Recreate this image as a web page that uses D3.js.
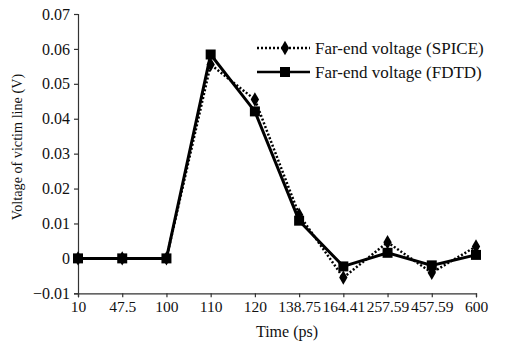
<!DOCTYPE html>
<html><head><meta charset="utf-8">
<script src="https://cdn.jsdelivr.net/npm/d3@7"></script>
<style>body{margin:0;background:#fff}svg{display:block}</style>
</head><body><svg id="c" width="513" height="357" style="font-family:'Liberation Serif'"></svg>
<script>
const categories = ["10","47.5","100","110","120","138.75","164.41","257.59","457.59","600"];
const spice = [0,0,0,0.0555,0.0455,0.0125,-0.0055,0.0046,-0.0041,0.0034];
const fdtd  = [0,0,0,0.0584,0.0421,0.0108,-0.0023,0.0016,-0.0020,0.0010];
const yTicks = [-0.01,0,0.01,0.02,0.03,0.04,0.05,0.06,0.07];
const seriesNames = ["Far-end voltage (SPICE)","Far-end voltage (FDTD)"];

const svg = d3.select("#c");
const x = d3.scalePoint().domain(categories).range([78,476]);
const y = d3.scaleLinear().domain([-0.01,0.07]).range([293.3,14]);

const xa = svg.append("g").attr("transform","translate(0,293.3)")
  .call(d3.axisBottom(x).tickSizeOuter(0).tickSize(4).tickPadding(4));
const ya = svg.append("g").attr("transform","translate(78,0)")
  .call(d3.axisLeft(y).tickValues(yTicks).tickSizeOuter(0).tickSize(4).tickPadding(4)
    .tickFormat(d => d===0 ? "0" : (d<0 ? "\u2212"+Math.abs(d).toFixed(2) : d.toFixed(2))));
[xa,ya].forEach((g,k)=>{
  g.attr("font-family",null).attr("font-size",null);
  g.selectAll("path,line").attr("stroke","#333").attr("stroke-width",1.2);
  g.selectAll("text").attr("font-size",k===0?15.5:16).attr("fill","#111");
});

svg.append("text").attr("x",287).attr("y",337).attr("text-anchor","middle").attr("font-size",16).attr("fill","#111").text("Time (ps)");
svg.append("text").attr("transform","translate(22,147) rotate(-90)").attr("text-anchor","middle").attr("font-size",14.2).attr("fill","#111").text("Voltage of victim line (V)");

const line = d3.line().x((d,i)=>x(categories[i])).y(d=>y(d));
svg.append("path").datum(fdtd).attr("d",line).attr("fill","none").attr("stroke","#000").attr("stroke-width",3);
svg.append("path").datum(spice).attr("d",line).attr("fill","none").attr("stroke","#000").attr("stroke-width",2.5).attr("stroke-dasharray","2,2");

const diamond = d3.symbol().type(d3.symbolDiamond).size(60);
const square = d3.symbol().type(d3.symbolSquare).size(100);
svg.append("g").selectAll("path").data(spice).join("path")
  .attr("d",diamond).attr("transform",(d,i)=>`translate(${x(categories[i])},${y(d)})`).attr("fill","#000");
svg.append("g").selectAll("path").data(fdtd).join("path")
  .attr("d",square).attr("transform",(d,i)=>`translate(${x(categories[i])},${y(d)})`).attr("fill","#000");

const lg = svg.append("g");
const rows = [{name:seriesNames[0],y:48,dash:"2,2",sym:diamond},{name:seriesNames[1],y:72,dash:null,sym:square}];
rows.forEach(r=>{
  lg.append("line").attr("x1",257).attr("x2",310).attr("y1",r.y).attr("y2",r.y).attr("stroke","#000").attr("stroke-width",2.5).attr("stroke-dasharray",r.dash);
  lg.append("path").attr("d",r.sym).attr("transform",`translate(285,${r.y})`).attr("fill","#000");
  lg.append("text").attr("x",315).attr("y",r.y).attr("dy","0.35em").attr("font-size",17).attr("fill","#111").text(r.name);
});
</script></body></html>
